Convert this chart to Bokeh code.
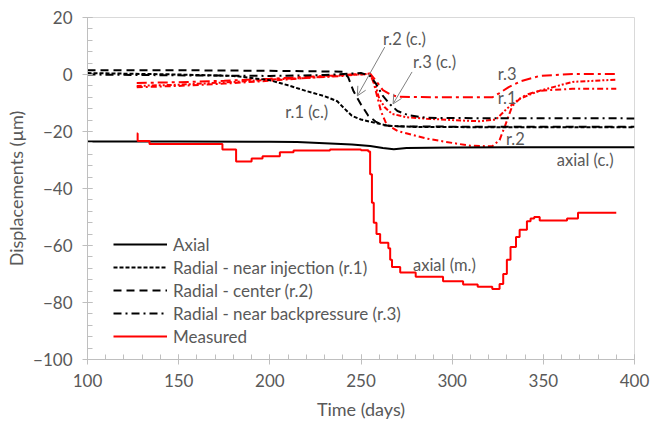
from bokeh.plotting import figure
from bokeh.models import Legend, LegendItem, Arrow, OpenHead, Range1d, FixedTicker
from bokeh.core.properties import value
from bokeh.embed import file_html
from bokeh.resources import INLINE

# ---- data ----
axial_c_days = [100, 150, 200, 215, 230, 245, 255, 262, 268, 275, 300, 350, 400]
axial_c_vals = [-23.5, -23.5, -23.6, -23.7, -24.1, -24.6, -25.1, -25.8, -26.2, -25.8, -25.6, -25.5, -25.5]

r1_c_days = [100, 150, 180, 190, 200, 210, 220, 230, 237, 241, 245, 250, 258, 265, 280, 320, 400]
r1_c_vals = [0.5, 0, -0.5, -1.2, -2.0, -3.8, -5.8, -7.6, -9.4, -12, -14.5, -15.8, -17, -18, -18.4, -18.5, -18.5]

r2_c_days = [100, 150, 200, 240, 243, 246, 250, 254, 258, 262, 270, 300, 400]
r2_c_vals = [1.5, 1.5, 1.3, 1.0, -1, -6, -10.5, -14.5, -16.5, -17.8, -18.2, -18.3, -18.3]

r3_c_days = [100, 150, 200, 230, 250, 255, 258, 262, 266, 270, 276, 286, 300, 400]
r3_c_vals = [0, -0.3, -0.5, -0.2, 0.5, -0.5, -3, -7.5, -10.5, -12.8, -14.3, -15.2, -15.3, -15.4]

meas_axial_days = [127, 127.5, 134, 174, 181.5, 190, 196, 205.5, 213, 233, 250, 254, 255, 256, 257,
                   258.5, 260.5, 265, 266, 267, 271.5, 280, 295, 306, 314, 322, 326, 328, 330, 332,
                   335, 337, 341, 343, 345, 348, 363, 369, 390]
meas_axial_vals = [-20.7, -23.3, -24.4, -26.3, -30.5, -29.5, -28.7, -27.3, -26.7, -26.3, -26.6, -27, -35, -45, -52,
                   -56, -59, -61, -65, -67.5, -69.5, -71, -72.5, -73.7, -74.5, -75.3, -73.5, -70, -65, -60.5,
                   -57, -54.5, -51.5, -50.5, -50, -51.2, -50.5, -48.5, -48.5]

meas_r3_days = [127, 150, 175, 200, 220, 240, 255, 258, 262, 266, 270, 290, 310, 322, 326, 331, 338, 348, 366, 390]
meas_r3_vals = [-3, -2.7, -2.2, -1.5, -0.8, -0.2, 0.3, -2, -5.5, -7, -7.8, -8, -8, -8, -6.5, -4.4, -2.3, -0.5, 0.2, 0.2]

meas_r1_days = [127, 150, 175, 200, 220, 240, 255, 258, 260, 263, 267, 275, 286, 300, 315, 324, 330, 337, 348, 366, 390]
meas_r1_vals = [-4, -3.6, -2.8, -1.8, -1.2, -0.3, 0.3, -4, -8.5, -11.5, -13.8, -15, -15.5, -16, -16.4, -15.8, -12, -8.5, -5.7, -2.6, -1.8]

meas_r2_days = [127, 150, 175, 200, 220, 240, 255, 257, 259, 261, 264, 270, 280, 286, 300, 310, 322, 326, 329, 333, 338, 342, 348, 366, 390]
meas_r2_vals = [-4.5, -4, -3.2, -2.2, -1.2, -0.5, 0.3, -3, -8, -13, -17.5, -19.8, -21.5, -22.5, -24, -25, -25.2, -23, -18, -11, -8, -6.8, -5.7, -5, -5]

x_ticks = [100, 150, 200, 250, 300, 350, 400]
y_ticks = [20, 0, -20, -40, -60, -80, -100]

labels_text = ["r.2 (c.)", "r.3 (c.)", "r.1 (c.)", "r.3", "r.1", "r.2", "axial (c.)", "axial (m.)"]
labels_x = [262, 278.5, 208.4, 325, 325, 329.5, 357.4, 278.5]
labels_y = [12.4, 4.4, -13, 0.2, -8.2, -22.5, -30, -66.7]

arrows = [((263, 9.6), (248, -7.5)), ((278, 0.9), (267.6, -10.3))]

# ---- figure ----
GREY_TXT = "#595959"
FONT = "Lato"

p = figure(width=651, height=430, output_backend="svg", toolbar_location=None,
           x_range=Range1d(100, 400), y_range=Range1d(-100, 20),
           min_border_left=87, min_border_right=17, min_border_top=17, min_border_bottom=71)
p.xgrid.visible = False
p.ygrid.visible = False
p.outline_line_color = "#d9d9d9"
p.background_fill_color = "white"
p.border_fill_color = "white"

for ax in (p.xaxis[0], p.yaxis[0]):
    ax.axis_line_color = "#bfbfbf"
    ax.major_tick_line_color = "#bfbfbf"
    ax.minor_tick_line_color = "#bfbfbf"
    ax.major_label_text_color = GREY_TXT
    ax.major_label_text_font = FONT
    ax.major_label_text_font_size = "17px"
    ax.axis_label_text_color = GREY_TXT
    ax.axis_label_text_font = FONT
    ax.axis_label_text_font_size = "18px"
    ax.axis_label_text_font_style = "normal"
    ax.major_tick_in = 5
    ax.major_tick_out = 5
    ax.minor_tick_in = 5
    ax.minor_tick_out = 0

p.xaxis.ticker = FixedTicker(ticks=x_ticks, minor_ticks=list(range(100, 401, 10)))
p.yaxis.ticker = FixedTicker(ticks=y_ticks, minor_ticks=list(range(-100, 21, 4)))
p.xaxis.axis_label = "Time (days)"
p.yaxis.axis_label = "Displacements (µm)"
p.xaxis.major_label_standoff = 9
p.yaxis.major_label_standoff = 10
p.xaxis.axis_label_standoff = 8
p.yaxis.axis_label_standoff = 3

# measured radial (red, dashed)
p.line(meas_r3_days, meas_r3_vals, line_color="red", line_width=2, line_dash="10 4 3 4")
p.line(meas_r1_days, meas_r1_vals, line_color="red", line_width=2, line_dash="5 2 2 2 2 2")
p.line(meas_r2_days, meas_r2_vals, line_color="red", line_width=2, line_dash="6 3 2 3")

# computed
r_ax = p.line(axial_c_days, axial_c_vals, line_color="black", line_width=2)
r_r1 = p.line(r1_c_days, r1_c_vals, line_color="black", line_width=2, line_dash="4 2")
r_r2 = p.line(r2_c_days, r2_c_vals, line_color="black", line_width=2, line_dash="8 5")
r_r3 = p.line(r3_c_days, r3_c_vals, line_color="black", line_width=2, line_dash="8 4 2 4")

# measured axial
r_meas = p.step(meas_axial_days, meas_axial_vals, mode="after", line_color="red", line_width=2)

p.text(x=labels_x, y=labels_y, text=labels_text, text_font=value(FONT), text_font_size="16.5px",
       text_color=GREY_TXT, text_align="left", text_baseline="middle")

for (x0, y0), (x1, y1) in arrows:
    p.add_layout(Arrow(x_start=x0, y_start=y0, x_end=x1, y_end=y1, line_color="#808080", line_width=1,
                       end=OpenHead(size=9, line_color="#808080", line_width=1)))

legend = Legend(items=[
    LegendItem(label="Axial", renderers=[r_ax]),
    LegendItem(label="Radial - near injection (r.1)", renderers=[r_r1]),
    LegendItem(label="Radial - center (r.2)", renderers=[r_r2]),
    LegendItem(label="Radial - near backpressure (r.3)", renderers=[r_r3]),
    LegendItem(label="Measured", renderers=[r_meas]),
], location=(26, 12), glyph_width=54, glyph_height=22, label_height=22, spacing=1, padding=0,
    margin=0, label_standoff=6, border_line_alpha=0, background_fill_alpha=0,
    label_text_font=FONT, label_text_font_size="17px", label_text_color=GREY_TXT)
p.add_layout(legend)

open("out.html", "w").write(file_html(p, INLINE))
